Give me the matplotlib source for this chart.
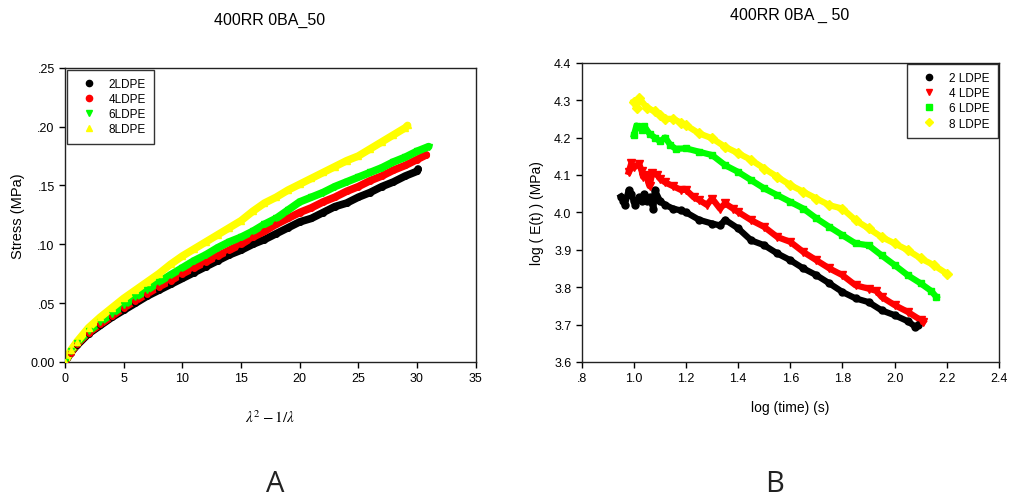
import matplotlib
matplotlib.use("Agg")
import matplotlib.pyplot as plt
from matplotlib.lines import Line2D

plt.rcParams['font.family'] = ['Liberation Sans', 'DejaVu Sans']
plt.rcParams['mathtext.fontset'] = 'stix'

# ---------------- Panel A data ----------------
xA_2 = [0, 0.5, 1, 2, 3, 4, 5, 6, 7, 8, 9, 10, 11, 12, 13, 14, 15, 16, 17, 18, 19, 20,
        21, 22, 23, 24, 25, 26, 27, 28, 29, 30, 30.1]
yA_2 = [0.000, 0.008, 0.014, 0.024, 0.031, 0.038, 0.044, 0.050, 0.056, 0.061, 0.066, 0.071,
        0.076, 0.081, 0.086, 0.091, 0.095, 0.100, 0.104, 0.109, 0.114, 0.119, 0.122, 0.127,
        0.132, 0.135, 0.140, 0.144, 0.149, 0.153, 0.158, 0.162, 0.164]
xA_4 = [0, 0.5, 1, 2, 3, 4, 5, 6, 7, 8, 9, 10, 11, 12, 13, 14, 15, 16, 17, 18, 19, 20,
        21, 22, 23, 24, 25, 26, 27, 28, 29, 30, 30.8]
yA_4 = [0.000, 0.008, 0.015, 0.025, 0.032, 0.039, 0.046, 0.052, 0.058, 0.064, 0.069, 0.075,
        0.080, 0.085, 0.090, 0.095, 0.100, 0.106, 0.111, 0.117, 0.122, 0.127, 0.131, 0.136,
        0.140, 0.145, 0.149, 0.154, 0.158, 0.163, 0.167, 0.172, 0.176]
xA_6 = [0, 0.5, 1, 2, 3, 4, 5, 6, 7, 8, 9, 10, 11, 12, 13, 14, 15, 16, 17, 18, 19, 20,
        21, 22, 23, 24, 25, 26, 27, 28, 29, 30, 31]
yA_6 = [0.000, 0.009, 0.016, 0.026, 0.034, 0.041, 0.048, 0.055, 0.061, 0.068, 0.074, 0.080,
        0.086, 0.091, 0.097, 0.102, 0.106, 0.111, 0.117, 0.122, 0.129, 0.136, 0.140, 0.144,
        0.149, 0.153, 0.157, 0.161, 0.165, 0.170, 0.174, 0.179, 0.183]
xA_8 = [0, 0.5, 1, 2, 3, 4, 5, 6, 7, 8, 9, 10, 11, 12, 13, 14, 15, 16, 17, 18, 19, 20,
        21, 22, 23, 24, 25, 26, 27, 28, 29, 29.2]
yA_8 = [0.000, 0.010, 0.017, 0.029, 0.038, 0.046, 0.054, 0.061, 0.068, 0.075, 0.083, 0.090,
        0.096, 0.102, 0.108, 0.114, 0.120, 0.128, 0.135, 0.140, 0.146, 0.151, 0.156, 0.161,
        0.166, 0.171, 0.175, 0.181, 0.187, 0.193, 0.199, 0.201]
labelsA = ['2LDPE', '4LDPE', '6LDPE', '8LDPE']
xticksA = [0, 5, 10, 15, 20, 25, 30, 35]
yticksA = [0.0, 0.05, 0.10, 0.15, 0.20, 0.25]
ytlabA = ['0.00', '.05', '.10', '.15', '.20', '.25']

# ---------------- Panel B data ----------------
xB_2 = [0.95, 0.96, 0.965, 0.98, 0.99, 1.0, 1.005, 1.02, 1.03, 1.04, 1.05, 1.06, 1.075, 1.08,
        1.1, 1.12, 1.15, 1.18, 1.2, 1.25, 1.3, 1.33, 1.35, 1.4, 1.45, 1.5, 1.55, 1.6, 1.65,
        1.7, 1.75, 1.8, 1.85, 1.9, 1.95, 2.0, 2.05, 2.08, 2.09]
yB_2 = [4.042, 4.030, 4.020, 4.059, 4.048, 4.030, 4.020, 4.040, 4.030, 4.048, 4.030, 4.040,
        4.010, 4.060, 4.030, 4.020, 4.010, 4.005, 4.000, 3.980, 3.970, 3.965, 3.980, 3.957,
        3.925, 3.912, 3.890, 3.872, 3.850, 3.832, 3.810, 3.787, 3.770, 3.760, 3.738, 3.725,
        3.709, 3.694, 3.700]
xB_4 = [0.98, 0.99, 1.0, 1.02, 1.03, 1.035, 1.05, 1.055, 1.06, 1.07, 1.09, 1.1, 1.12, 1.15,
        1.18, 1.2, 1.23, 1.25, 1.28, 1.3, 1.33, 1.35, 1.38, 1.4, 1.45, 1.5, 1.55, 1.6, 1.65,
        1.7, 1.75, 1.8, 1.85, 1.9, 1.93, 1.95, 2.0, 2.05, 2.1, 2.11]
yB_4 = [4.108, 4.131, 4.120, 4.130, 4.110, 4.095, 4.100, 4.080, 4.070, 4.104, 4.100, 4.090,
        4.080, 4.070, 4.060, 4.060, 4.040, 4.033, 4.020, 4.037, 4.010, 4.024, 4.010, 4.001,
        3.979, 3.961, 3.934, 3.921, 3.894, 3.872, 3.850, 3.832, 3.805, 3.796, 3.790, 3.774,
        3.752, 3.734, 3.712, 3.707]
xB_6 = [1.0, 1.01, 1.03, 1.04, 1.06, 1.08, 1.1, 1.12, 1.14, 1.16, 1.2, 1.25, 1.3, 1.35, 1.4,
        1.45, 1.5, 1.55, 1.6, 1.65, 1.7, 1.75, 1.8, 1.85, 1.9, 1.95, 2.0, 2.05, 2.1, 2.14, 2.16]
yB_6 = [4.207, 4.232, 4.220, 4.230, 4.210, 4.200, 4.190, 4.200, 4.180, 4.170, 4.171, 4.162,
        4.153, 4.126, 4.108, 4.086, 4.064, 4.046, 4.028, 4.010, 3.984, 3.961, 3.939, 3.917,
        3.912, 3.885, 3.859, 3.832, 3.810, 3.790, 3.774]
xB_8 = [1.0, 1.01, 1.02, 1.05, 1.08, 1.1, 1.12, 1.15, 1.18, 1.2, 1.25, 1.3, 1.35, 1.4, 1.45,
        1.5, 1.55, 1.6, 1.65, 1.7, 1.75, 1.8, 1.85, 1.9, 1.95, 2.0, 2.05, 2.1, 2.15, 2.2]
yB_8 = [4.296, 4.280, 4.305, 4.280, 4.270, 4.260, 4.250, 4.250, 4.240, 4.233, 4.211, 4.198,
        4.175, 4.158, 4.140, 4.117, 4.095, 4.073, 4.055, 4.037, 4.019, 4.010, 3.979, 3.957,
        3.934, 3.917, 3.899, 3.877, 3.859, 3.836]
labelsB = ['2 LDPE', '4 LDPE', '6 LDPE', '8 LDPE']
xticksB = [0.8, 1.0, 1.2, 1.4, 1.6, 1.8, 2.0, 2.2, 2.4]
xtlabB = ['.8', '1.0', '1.2', '1.4', '1.6', '1.8', '2.0', '2.2', '2.4']
yticksB = [3.6, 3.7, 3.8, 3.9, 4.0, 4.1, 4.2, 4.3, 4.4]

colors = ['#000000', '#FF0000', '#00FF00', '#FFFF00']

W, H = 1010, 502
fig = plt.figure(figsize=(W / 100, H / 100), dpi=100)

LEG_KW = dict(fontsize=8.5, frameon=True, fancybox=False, edgecolor='black',
              handlelength=2.3, handletextpad=0.55, labelspacing=0.27, borderpad=0.7)

# Panel A
axA = fig.add_axes([0.0644, 0.277, 0.4065, 0.586])
markersA = ['o', 'o', 'v', '^']
seriesA = [(xA_2, yA_2), (xA_4, yA_4), (xA_6, yA_6), (xA_8, yA_8)]
for (x, y), c, m in zip(seriesA, colors, markersA):
    axA.plot(x, y, color=c, lw=5.5, solid_capstyle='round', solid_joinstyle='round', zorder=2)
    axA.plot(x, y, ls='none', marker=m, color=c, ms=4, zorder=3)
axA.set_xlim(0, 35)
axA.set_ylim(0, 0.25)
axA.set_xticks(xticksA)
axA.set_yticks(yticksA)
axA.set_yticklabels(ytlabA)
axA.set_ylabel('Stress (MPa)', fontsize=10.5, labelpad=4)
axA.set_xlabel(r'$\lambda^2-1/\lambda$', fontsize=11, labelpad=17)
handlesA = [Line2D([], [], ls='none', marker=m, color=c, ms=4.5) for m, c in zip(markersA, colors)]
legA = axA.legend(handlesA, labelsA, loc='upper left', borderaxespad=0.15, **LEG_KW)
legA.get_frame().set_linewidth(1.0)

# Panel B
axB = fig.add_axes([0.576, 0.277, 0.413, 0.596])
markersB = ['o', 'v', 's', 'D']
sizesB = [5, 6, 5, 5]
seriesB = [(xB_2, yB_2), (xB_4, yB_4), (xB_6, yB_6), (xB_8, yB_8)]
for (x, y), c, m, s in zip(seriesB, colors, markersB, sizesB):
    axB.plot(x, y, color=c, lw=4.5, solid_joinstyle='round', zorder=2)
    axB.plot(x, y, ls='none', marker=m, color=c, ms=s, zorder=3)
axB.set_xlim(0.8, 2.4)
axB.set_ylim(3.6, 4.4)
axB.set_xticks(xticksB)
axB.set_xticklabels(xtlabB)
axB.set_yticks(yticksB)
axB.set_yticklabels([f'{v:.1f}' for v in yticksB])
axB.set_xlabel('log (time) (s)', fontsize=10, labelpad=11)
axB.set_ylabel('log ( E(t) ) (MPa)', fontsize=10, labelpad=7)
handlesB = [Line2D([], [], ls='none', marker=m, color=c, ms=4.5) for m, c in zip(markersB, colors)]
legB = axB.legend(handlesB, labelsB, loc='upper right', borderaxespad=0.08, **LEG_KW)
legB.get_frame().set_linewidth(1.0)

for ax in (axA, axB):
    ax.tick_params(direction='out', length=4, width=1, labelsize=9, top=False, right=False)
    for sp in ax.spines.values():
        sp.set_linewidth(1.0)
        sp.set_color('#222222')

# Titles
fig.text(270 / W, 1 - 20 / H, '400RR 0BA_50', fontsize=11.5, ha='center', va='center')
fig.text(790 / W, 1 - 15 / H, '400RR 0BA _ 50', fontsize=11.5, ha='center', va='center')

# Panel letters
fig.text(275 / W, 1 - 485 / H, 'A', fontsize=21, color='#222222', ha='center', va='center',
         family=['Open Sans', 'Liberation Sans'], weight='normal')
fig.text(775 / W, 1 - 485 / H, 'B', fontsize=21, color='#222222', ha='center', va='center',
         family=['Open Sans', 'Liberation Sans'], weight='normal')

fig.savefig('out.png', dpi=100)
